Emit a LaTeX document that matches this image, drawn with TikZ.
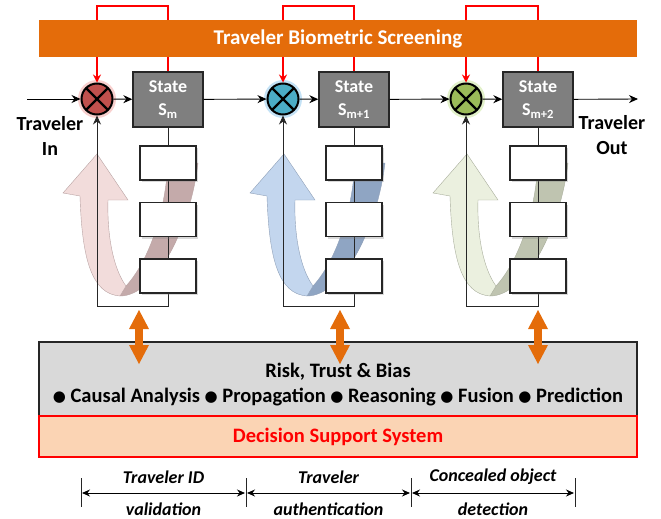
\documentclass[tikz,border=0pt]{standalone}
\usepackage{fontspec}
\setmainfont{Carlito}
\newfontfamily\symfont{DejaVu Sans}
\usetikzlibrary{arrows.meta,calc,shadows,positioning}

\definecolor{barorange}{HTML}{E46C0A}
\definecolor{stategray}{HTML}{7F7F7F}
\definecolor{panelgray}{HTML}{D9D9D9}
\definecolor{dsspeach}{HTML}{FBD4B4}
\definecolor{mixred}{HTML}{C0504D}
\definecolor{mixblue}{HTML}{4BACC6}
\definecolor{mixgreen}{HTML}{9BBB59}
\definecolor{glowred}{HTML}{F4B0AE}
\definecolor{glowblue}{HTML}{9CCFF0}
\definecolor{glowgreen}{HTML}{CFE8A6}
\definecolor{pinkF}{HTML}{F2DCDB}
\definecolor{pinkB}{HTML}{C4AAAA}
\definecolor{pinkE}{HTML}{B9A3A3}
\definecolor{blueF}{HTML}{C3D6EE}
\definecolor{blueB}{HTML}{8FA5C3}
\definecolor{blueE}{HTML}{8FA0B8}
\definecolor{greenF}{HTML}{EBF0DF}
\definecolor{greenB}{HTML}{BFC4B0}
\definecolor{greenE}{HTML}{A9AE9C}

\newcommand\blt{\raisebox{1.5pt}{\symfont\fontsize{15}{25}\selectfont ●}}

\tikzset{
  bar/.style={fill=barorange, text=white, font=\bfseries\fontsize{21}{24}\selectfont,
    minimum width=598pt, minimum height=37pt, inner sep=0pt},
  mixer/.style={circle, fill=#1, draw=black, line width=2pt, minimum size=31pt, inner sep=0pt,
    path picture={\draw[line width=2.2pt]
      (path picture bounding box.north west) -- (path picture bounding box.south east)
      (path picture bounding box.north east) -- (path picture bounding box.south west);}},
  glow/.style={preaction={draw=#1, line width=7pt, opacity=.6}},
  statebox/.style={fill=stategray, draw=black!85, line width=1.4pt, minimum width=70pt,
    minimum height=55pt, text=white, font=\bfseries\fontsize{18}{23}\selectfont, align=center},
  smallbox/.style={fill=white, draw=black!85, line width=1.4pt, minimum width=56pt,
    minimum height=34pt, drop shadow={shadow xshift=2pt, shadow yshift=-2pt, opacity=.3}},
  flow/.style={-{Stealth[length=9pt,width=8pt]}, line width=0.9pt},
  redline/.style={draw=red, line width=1.3pt, -{Stealth[length=8pt,width=8pt]}},
  loopline/.style={line width=0.9pt, draw=black!85},
  bidir/.style={draw=barorange, line width=8pt,
    {Triangle[length=19pt,width=20pt,line width=0pt]}-{Triangle[length=19pt,width=20pt,line width=0pt]}},
  panel/.style={fill=panelgray, draw=black!85, line width=1.2pt, minimum width=598pt, minimum height=74pt},
  dss/.style={fill=dsspeach, draw=red, line width=1.2pt, minimum width=598pt, minimum height=41pt,
    text=red, font=\bfseries\fontsize{20.5}{22}\selectfont},
  sidetext/.style={font=\bfseries\fontsize{20}{25}\selectfont, align=center},
  span/.style={font=\bfseries\itshape\fontsize{18}{20}\selectfont},
  dim/.style={{Stealth[length=8pt,width=7pt]}-{Stealth[length=8pt,width=7pt]}, line width=1pt, shorten <=1pt, shorten >=1pt},
  tick/.style={line width=0.9pt, draw=black!85}
}

\begin{document}
\begin{tikzpicture}[x=1pt,y=-1pt]
\useasboundingbox (0,0) rectangle (661,519);

\node[mixer=mixred, glow=glowred] (c1) at (97,99) {};
\node[mixer=mixblue, glow=glowblue] (c2) at (283,99) {};
\node[mixer=mixgreen, glow=glowgreen] (c3) at (466,99) {};
\node[statebox] (s1) at (168,99.5) {State\\S\textsubscript{m}};
\node[statebox] (s2) at (354,99.5) {State\\S\textsubscript{m+1}};
\node[statebox] (s3) at (538,99.5) {State\\S\textsubscript{m+2}};

\draw[redline] (s1.north) -- (s1.north |- 0,6) -| (c1.north);
\draw[redline] (s2.north) -- (s2.north |- 0,6) -| (c2.north);
\draw[redline] (s3.north) -- (s3.north |- 0,6) -| (c3.north);
\node[bar] (screen) at (338,38.5) {Traveler Biometric Screening};

\foreach \dx/\fc/\bc/\ec in {0/pinkF/pinkB/pinkE, 187/blueF/blueB/blueE, 370/greenF/greenB/greenE}{
  \begin{scope}[xshift=\dx pt]
    \filldraw[fill=\bc, draw=\ec, line width=.4pt] (120,296) .. controls (155,296) and (190,230) .. (198,163)
      -- (168,163) .. controls (165,215) and (148,262) .. (126,286) -- cycle;
    \filldraw[fill=\fc, draw=\ec, line width=.4pt] (126,286) .. controls (113,268) and (107,235) .. (108,200)
      -- (128,200) -- (97,154) -- (63,193) -- (80,196) .. controls (82,260) and (92,294) .. (120,296) -- cycle;
  \end{scope}
}

\draw[loopline, -{Stealth[length=9pt,width=8pt]}] (s1.south) -- (s1.south |- 0,306) -| (c1.south);
\draw[loopline, -{Stealth[length=9pt,width=8pt]}] (s2.south) -- (s2.south |- 0,306) -| (c2.south);
\draw[loopline, -{Stealth[length=9pt,width=8pt]}] (s3.south) -- (s3.south |- 0,306) -| (c3.south);

\node[smallbox] (b11) at (168,163) {};
\node[smallbox] (b12) at (168,219.5) {};
\node[smallbox] (b13) at (168,276) {};
\node[smallbox] (b21) at (354,163) {};
\node[smallbox] (b22) at (354,219.5) {};
\node[smallbox] (b23) at (354,276) {};
\node[smallbox] (b31) at (538,163) {};
\node[smallbox] (b32) at (538,219.5) {};
\node[smallbox] (b33) at (538,276) {};

\coordinate (in) at (27,99);
\coordinate (out) at (638,99);
\draw[flow] (in) -- (c1);
\draw[flow] (c1) -- (s1);
\draw[flow] (s1) -- (c2);
\draw[flow] (c2) -- (s2);
\draw[flow] (s2) -- (c3);
\draw[flow] (c3) -- (s3);
\draw[flow] (s3) -- (out);
\node[sidetext] (tin) at (50,135.5) {Traveler\\In};
\node[sidetext] (tout) at (612,135.5) {Traveler\\Out};

\node[panel] (risk) at (338,379) {};
\node[dss] (dsys) at (338,436.5) {Decision Support System};
\node[font=\bfseries\fontsize{20.5}{25}\selectfont, align=center] (risktext) at (338,385)
  {Risk, Trust \& Bias\\\blt\ Causal Analysis \blt\ Propagation \blt\ Reasoning \blt\ Fusion \blt\ Prediction};

\coordinate (a1t) at (139,310); \coordinate (a1b) at (139,364);
\coordinate (a2t) at (340,310); \coordinate (a2b) at (340,364);
\coordinate (a3t) at (538,310); \coordinate (a3b) at (538,364);
\draw[bidir] (a1t) -- (a1b);
\draw[bidir] (a2t) -- (a2b);
\draw[bidir] (a3t) -- (a3b);

\coordinate (d0) at (81,493);
\coordinate (d1) at (246,493);
\coordinate (d2) at (411,493);
\coordinate (d3) at (575,493);
\foreach \d in {d0,d1,d2,d3}
  \draw[tick] ($(\d)+(0,-15)$) -- ($(\d)+(0,14)$);
\draw[dim] (d0) -- (d1);
\draw[dim] (d1) -- (d2);
\draw[dim] (d2) -- (d3);
\node[span] (p1a) at ($(d0)!.5!(d1)+(0,-16)$) {Traveler ID};
\node[span] (p1b) at ($(d0)!.5!(d1)+(0,16)$) {validation};
\node[span] (p2a) at ($(d1)!.5!(d2)+(0,-16)$) {Traveler};
\node[span] (p2b) at ($(d1)!.5!(d2)+(0,16)$) {authentication};
\node[span] (p3a) at ($(d2)!.5!(d3)+(0,-16)$) {Concealed object};
\node[span] (p3b) at ($(d2)!.5!(d3)+(0,16)$) {detection};
\end{tikzpicture}
\end{document}
